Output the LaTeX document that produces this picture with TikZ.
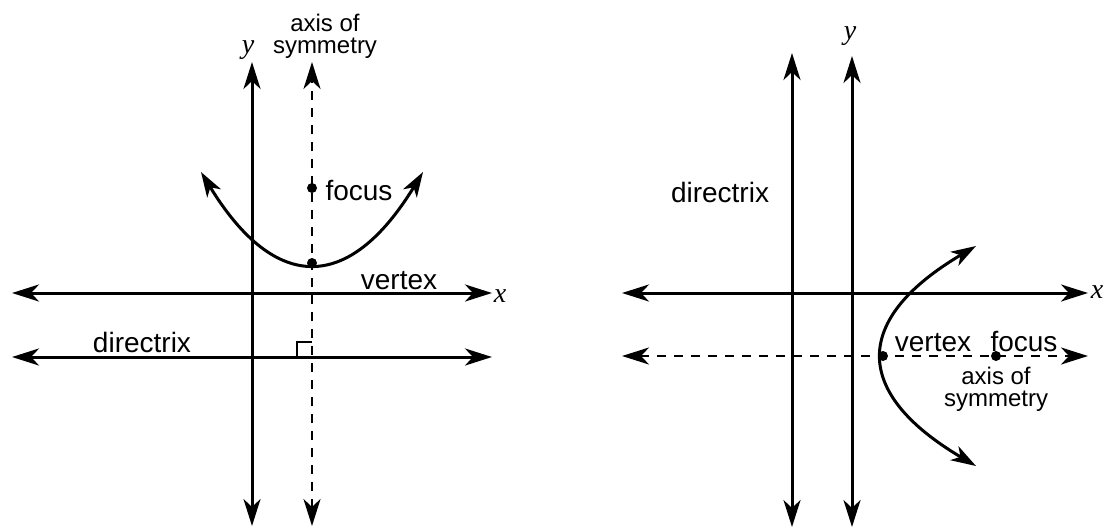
\documentclass[tikz,border=0pt]{standalone}
\usepackage{fontspec}
\setmainfont{Liberation Sans}
\newfontfamily\varfont{Liberation Serif}
\usetikzlibrary{arrows.meta}
\tikzset{
  tip/.tip={Stealth[length=27pt,width=17pt,inset=8pt]},
  axisline/.style={line width=3pt,tip-tip},
  dashline/.style={line width=2.6pt,tip-tip,dash pattern=on 9pt off 8pt},
  curveline/.style={line width=3pt,{Stealth[length=25pt,width=16pt,inset=7pt]}-{Stealth[length=25pt,width=16pt,inset=7pt]}},
  lbl/.style={inner sep=0pt,font=\fontsize{28}{30}\selectfont},
  smalllbl/.style={inner sep=0pt,align=center,font=\fontsize{24}{22}\selectfont},
  varlbl/.style={inner sep=0pt,font=\varfont\itshape\fontsize{28}{30}\selectfont},
  dot/.style={circle,fill,inner sep=0pt,minimum size=10pt}
}
\begin{document}
\begin{tikzpicture}[x=1pt,y=-1pt]
\useasboundingbox (0,0) rectangle (1105,531);
% ---------- left figure ----------
\coordinate (LxL) at (12,293);   \coordinate (LxR) at (492,293);
\coordinate (LdL) at (12,357);   \coordinate (LdR) at (492,357);
\coordinate (LyT) at (252,62);   \coordinate (LyB) at (252,526);
\coordinate (LaT) at (312,62);   \coordinate (LaB) at (312,526);
\coordinate (LpL) at (201,172);  \coordinate (LpR) at (423,172);
\coordinate (LrA) at (297,357);  \coordinate (LrB) at (297,342); \coordinate (LrC) at (312,342);
\draw[axisline] (LxL) -- (LxR);
\draw[axisline] (LdL) -- (LdR);
\draw[axisline] (LyB) -- (LyT);
\draw[dashline] (LaB) -- (LaT);
\draw[line width=2.4pt] (LrA) -- (LrB) -- (LrC);
\draw[curveline] (LpL) .. controls (275,293.3) and (349,293.3) .. (LpR);
\node[dot] (Lvertex) at (312,263) {};
\node[dot] (Lfocus) at (312,188) {};
\node[varlbl] (Lylab) at (248,50) {y};
\node[varlbl] (Lxlab) at (500,296) {x};
\node[smalllbl] (Laxis) at (325,36) {axis of\\symmetry};
\node[lbl] (Lfocuslab) at (359,190) {focus};
\node[lbl] (Lvertexlab) at (399,281) {vertex};
\node[lbl] (Ldirlab) at (142,342) {directrix};
% ---------- right figure ----------
\coordinate (RxL) at (622,293);  \coordinate (RxR) at (1088,293);
\coordinate (RaL) at (622,356);  \coordinate (RaR) at (1088,356);
\coordinate (RdT) at (792,53);   \coordinate (RdB) at (792,527);
\coordinate (RyT) at (852,56);   \coordinate (RyB) at (852,527);
\coordinate (RpT) at (976,246);  \coordinate (RpB) at (976,466);
\draw[axisline] (RxL) -- (RxR);
\draw[dashline] (RaL) -- (RaR);
\draw[axisline] (RdB) -- (RdT);
\draw[axisline] (RyB) -- (RyT);
\draw[curveline] (RpT) .. controls (852,319.3) and (852,392.7) .. (RpB);
\node[dot] (Rvertex) at (883,356) {};
\node[dot] (Rfocus) at (996,356) {};
\node[varlbl] (Rylab) at (850,36) {y};
\node[varlbl] (Rxlab) at (1097,292) {x};
\node[lbl] (Rdirlab) at (720,192) {directrix};
\node[lbl] (Rvertexlab) at (933,343) {vertex};
\node[lbl] (Rfocuslab) at (1024,341) {focus};
\node[smalllbl] (Raxis) at (996,389) {axis of\\symmetry};
\end{tikzpicture}
\end{document}
